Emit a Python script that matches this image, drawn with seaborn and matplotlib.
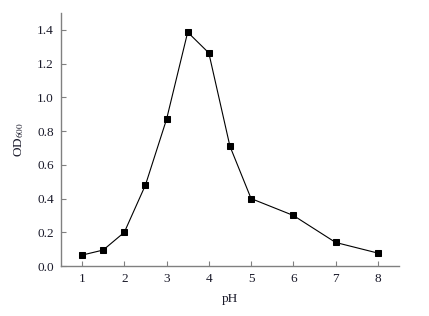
import matplotlib
matplotlib.use("Agg")
import matplotlib.pyplot as plt
import seaborn as sns
import pandas as pd

# values
ph = [1, 1.5, 2, 2.5, 3, 3.5, 4, 4.5, 5, 6, 7, 8]
od600 = [0.065, 0.095, 0.20, 0.48, 0.87, 1.386, 1.263, 0.71, 0.40, 0.30, 0.14, 0.077]
x_ticks = [1, 2, 3, 4, 5, 6, 7, 8]
y_ticks = [0.0, 0.2, 0.4, 0.6, 0.8, 1.0, 1.2, 1.4]

sns.set_theme(style="white")
plt.rcParams['font.family'] = ['Liberation Serif', 'DejaVu Serif']
plt.rcParams['mathtext.fontset'] = 'stix'

df = pd.DataFrame({'pH': ph, 'OD600': od600})

fig = plt.figure(figsize=(4.29, 3.16), dpi=100)
ax = fig.add_axes([0.142, 0.158, 0.788, 0.801])

sns.lineplot(data=df, x='pH', y='OD600', ax=ax, color='black', linewidth=0.8,
             marker='s', markersize=4.2, markeredgecolor='black', markerfacecolor='black')

ax.set_xlim(0.5, 8.5)
ax.set_ylim(0, 1.5)
ax.set_xticks(x_ticks)
ax.set_xticklabels([str(t) for t in x_ticks])
ax.set_yticks(y_ticks)
ax.set_yticklabels([f"{t:.1f}" for t in y_ticks])

for side in ['top', 'right']:
    ax.spines[side].set_visible(False)
for side in ['left', 'bottom']:
    ax.spines[side].set_color('#808080')
    ax.spines[side].set_linewidth(1.0)

ax.tick_params(axis='both', direction='in', length=3.5, width=0.8, color='#808080',
               labelsize=9.5, labelcolor='#1a1a2a', pad=5, left=True, bottom=True)

ax.set_xlabel('pH', fontsize=9.5, color='#1a1a2a', labelpad=6)
ax.set_ylabel('OD$_{600}$', fontsize=9.5, color='#1a1a2a', labelpad=8)

plt.savefig('out.png', dpi=100)
plt.close()
